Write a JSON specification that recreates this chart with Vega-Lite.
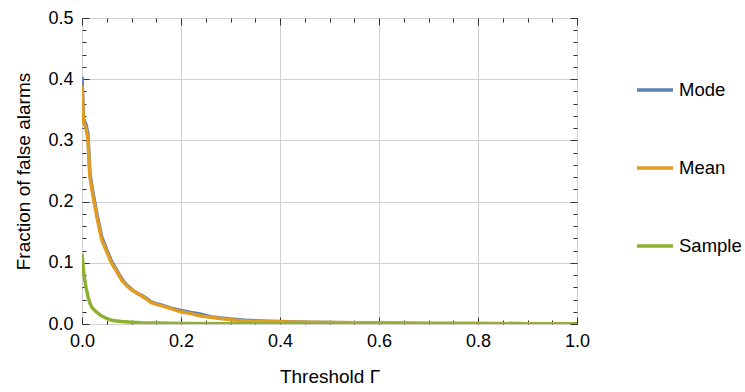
{
  "$schema": "https://vega.github.io/schema/vega-lite/v6.json",
  "autosize": "none",
  "width": 495,
  "height": 306,
  "padding": {"left": 82, "top": 18, "right": 168, "bottom": 68},
  "background": "white",
  "config": {
    "view": {"stroke": "#333333", "strokeWidth": 1},
    "font": "Liberation Sans",
    "axis": {"labelFont": "Liberation Sans", "titleFont": "Liberation Sans", "labelColor": "#000000", "titleColor": "#000000", "titleFontWeight": "normal", "labelFlush": false, "labelOverlap": false}
  },
  "data": {
    "values": [
      {"series": "Mode", "x": 0.0, "y": 0.404},
      {"series": "Mode", "x": 0.003, "y": 0.335},
      {"series": "Mode", "x": 0.008, "y": 0.326},
      {"series": "Mode", "x": 0.012, "y": 0.31},
      {"series": "Mode", "x": 0.016, "y": 0.246},
      {"series": "Mode", "x": 0.022, "y": 0.215},
      {"series": "Mode", "x": 0.03, "y": 0.18},
      {"series": "Mode", "x": 0.04, "y": 0.142},
      {"series": "Mode", "x": 0.05, "y": 0.121},
      {"series": "Mode", "x": 0.06, "y": 0.102},
      {"series": "Mode", "x": 0.07, "y": 0.088},
      {"series": "Mode", "x": 0.08, "y": 0.074},
      {"series": "Mode", "x": 0.09, "y": 0.064},
      {"series": "Mode", "x": 0.1, "y": 0.057},
      {"series": "Mode", "x": 0.11, "y": 0.051},
      {"series": "Mode", "x": 0.12, "y": 0.047},
      {"series": "Mode", "x": 0.13, "y": 0.042},
      {"series": "Mode", "x": 0.14, "y": 0.036},
      {"series": "Mode", "x": 0.15, "y": 0.033},
      {"series": "Mode", "x": 0.16, "y": 0.031},
      {"series": "Mode", "x": 0.18, "y": 0.026},
      {"series": "Mode", "x": 0.2, "y": 0.022},
      {"series": "Mode", "x": 0.22, "y": 0.019},
      {"series": "Mode", "x": 0.24, "y": 0.016},
      {"series": "Mode", "x": 0.26, "y": 0.012},
      {"series": "Mode", "x": 0.28, "y": 0.01},
      {"series": "Mode", "x": 0.3, "y": 0.008},
      {"series": "Mode", "x": 0.33, "y": 0.006},
      {"series": "Mode", "x": 0.36, "y": 0.005},
      {"series": "Mode", "x": 0.4, "y": 0.004},
      {"series": "Mode", "x": 0.45, "y": 0.003},
      {"series": "Mode", "x": 0.5, "y": 0.0025},
      {"series": "Mode", "x": 0.6, "y": 0.0015},
      {"series": "Mode", "x": 0.7, "y": 0.001},
      {"series": "Mode", "x": 0.8, "y": 0.0008},
      {"series": "Mode", "x": 0.9, "y": 0.0005},
      {"series": "Mode", "x": 1.0, "y": 0.0004},
      {"series": "Mean", "x": 0.0, "y": 0.39},
      {"series": "Mean", "x": 0.003, "y": 0.33},
      {"series": "Mean", "x": 0.008, "y": 0.32},
      {"series": "Mean", "x": 0.012, "y": 0.302},
      {"series": "Mean", "x": 0.016, "y": 0.24},
      {"series": "Mean", "x": 0.022, "y": 0.21},
      {"series": "Mean", "x": 0.03, "y": 0.175},
      {"series": "Mean", "x": 0.04, "y": 0.137},
      {"series": "Mean", "x": 0.05, "y": 0.118},
      {"series": "Mean", "x": 0.06, "y": 0.099},
      {"series": "Mean", "x": 0.07, "y": 0.086},
      {"series": "Mean", "x": 0.08, "y": 0.072},
      {"series": "Mean", "x": 0.09, "y": 0.063},
      {"series": "Mean", "x": 0.1, "y": 0.056},
      {"series": "Mean", "x": 0.11, "y": 0.051},
      {"series": "Mean", "x": 0.12, "y": 0.046},
      {"series": "Mean", "x": 0.13, "y": 0.041},
      {"series": "Mean", "x": 0.14, "y": 0.035},
      {"series": "Mean", "x": 0.15, "y": 0.032},
      {"series": "Mean", "x": 0.16, "y": 0.03},
      {"series": "Mean", "x": 0.18, "y": 0.025},
      {"series": "Mean", "x": 0.2, "y": 0.02},
      {"series": "Mean", "x": 0.22, "y": 0.017},
      {"series": "Mean", "x": 0.24, "y": 0.013},
      {"series": "Mean", "x": 0.26, "y": 0.011},
      {"series": "Mean", "x": 0.28, "y": 0.009},
      {"series": "Mean", "x": 0.3, "y": 0.007},
      {"series": "Mean", "x": 0.33, "y": 0.005},
      {"series": "Mean", "x": 0.36, "y": 0.004},
      {"series": "Mean", "x": 0.4, "y": 0.0035},
      {"series": "Mean", "x": 0.45, "y": 0.003},
      {"series": "Mean", "x": 0.5, "y": 0.0025},
      {"series": "Mean", "x": 0.6, "y": 0.0015},
      {"series": "Mean", "x": 0.7, "y": 0.001},
      {"series": "Mean", "x": 0.8, "y": 0.0008},
      {"series": "Mean", "x": 0.9, "y": 0.0005},
      {"series": "Mean", "x": 1.0, "y": 0.0004},
      {"series": "Sample", "x": 0.0, "y": 0.115},
      {"series": "Sample", "x": 0.004, "y": 0.08},
      {"series": "Sample", "x": 0.008, "y": 0.06},
      {"series": "Sample", "x": 0.012, "y": 0.045},
      {"series": "Sample", "x": 0.016, "y": 0.034},
      {"series": "Sample", "x": 0.02, "y": 0.027},
      {"series": "Sample", "x": 0.03, "y": 0.019},
      {"series": "Sample", "x": 0.04, "y": 0.013},
      {"series": "Sample", "x": 0.05, "y": 0.009},
      {"series": "Sample", "x": 0.06, "y": 0.006},
      {"series": "Sample", "x": 0.07, "y": 0.005},
      {"series": "Sample", "x": 0.08, "y": 0.004},
      {"series": "Sample", "x": 0.1, "y": 0.003},
      {"series": "Sample", "x": 0.12, "y": 0.002},
      {"series": "Sample", "x": 0.15, "y": 0.0015},
      {"series": "Sample", "x": 0.2, "y": 0.001},
      {"series": "Sample", "x": 0.3, "y": 0.0005},
      {"series": "Sample", "x": 0.5, "y": 0.0002},
      {"series": "Sample", "x": 1.0, "y": 0.0}
    ]
  },
  "layer": [
    {
      "mark": {"type": "point", "opacity": 0},
      "encoding": {
        "x": {"field": "x", "type": "quantitative", "scale": {"domain": [0, 1], "nice": false},
          "axis": {"orient": "bottom", "values": [0, 0.2, 0.4, 0.6, 0.8, 1.0], "format": ".1f", "ticks": false, "domain": false, "grid": true, "gridColor": "#d0d0d0", "gridWidth": 1, "labelFontSize": 18, "labelPadding": 8, "title": "Threshold Γ", "titleFontSize": 19, "titlePadding": 17}},
        "y": {"field": "y", "type": "quantitative", "scale": {"domain": [0, 0.5], "nice": false},
          "axis": {"orient": "left", "values": [0, 0.1, 0.2, 0.3, 0.4, 0.5], "format": ".1f", "ticks": false, "domain": false, "grid": true, "gridColor": "#d0d0d0", "gridWidth": 1, "labelFontSize": 18, "labelPadding": 9, "title": "Fraction of false alarms", "titleFontSize": 19, "titlePadding": 14.5}}
      }
    },
    {
      "mark": {"type": "point", "opacity": 0},
      "encoding": {
        "x": {"field": "x", "type": "quantitative",
          "axis": {"orient": "bottom", "values": [0, 0.2, 0.4, 0.6, 0.8, 1.0], "ticks": true, "tickSize": -7, "tickColor": "#333333", "labels": false, "domain": false, "grid": false, "title": null}},
        "y": {"field": "y", "type": "quantitative",
          "axis": {"orient": "left", "values": [0, 0.1, 0.2, 0.3, 0.4, 0.5], "ticks": true, "tickSize": -7, "tickColor": "#333333", "labels": false, "domain": false, "grid": false, "title": null}}
      }
    },
    {
      "mark": {"type": "point", "opacity": 0},
      "encoding": {
        "x": {"field": "x", "type": "quantitative",
          "axis": {"orient": "bottom", "values": [0.05, 0.1, 0.15, 0.25, 0.3, 0.35, 0.45, 0.5, 0.55, 0.65, 0.7, 0.75, 0.85, 0.9, 0.95], "ticks": true, "tickSize": -4, "tickColor": "#333333", "labels": false, "domain": false, "grid": false, "title": null}},
        "y": {"field": "y", "type": "quantitative",
          "axis": {"orient": "left", "values": [0.02, 0.04, 0.06, 0.08, 0.12, 0.14, 0.16, 0.18, 0.22, 0.24, 0.26, 0.28, 0.32, 0.34, 0.36, 0.38, 0.42, 0.44, 0.46, 0.48], "ticks": true, "tickSize": -4, "tickColor": "#333333", "labels": false, "domain": false, "grid": false, "title": null}}
      }
    },
    {
      "mark": {"type": "point", "opacity": 0},
      "encoding": {
        "x": {"field": "x", "type": "quantitative",
          "axis": {"orient": "top", "values": [0, 0.2, 0.4, 0.6, 0.8, 1.0], "ticks": true, "tickSize": -7, "tickColor": "#333333", "labels": false, "domain": false, "grid": false, "title": null}},
        "y": {"field": "y", "type": "quantitative",
          "axis": {"orient": "right", "values": [0, 0.1, 0.2, 0.3, 0.4, 0.5], "ticks": true, "tickSize": -7, "tickColor": "#333333", "labels": false, "domain": false, "grid": false, "title": null}}
      }
    },
    {
      "mark": {"type": "point", "opacity": 0},
      "encoding": {
        "x": {"field": "x", "type": "quantitative",
          "axis": {"orient": "top", "values": [0.05, 0.1, 0.15, 0.25, 0.3, 0.35, 0.45, 0.5, 0.55, 0.65, 0.7, 0.75, 0.85, 0.9, 0.95], "ticks": true, "tickSize": -4, "tickColor": "#333333", "labels": false, "domain": false, "grid": false, "title": null}},
        "y": {"field": "y", "type": "quantitative",
          "axis": {"orient": "right", "values": [0.02, 0.04, 0.06, 0.08, 0.12, 0.14, 0.16, 0.18, 0.22, 0.24, 0.26, 0.28, 0.32, 0.34, 0.36, 0.38, 0.42, 0.44, 0.46, 0.48], "ticks": true, "tickSize": -4, "tickColor": "#333333", "labels": false, "domain": false, "grid": false, "title": null}}
      }
    },
    {
      "mark": {"type": "line", "strokeWidth": 3.5, "clip": true},
      "encoding": {
        "x": {"field": "x", "type": "quantitative", "axis": null},
        "y": {"field": "y", "type": "quantitative", "axis": null},
        "color": {"field": "series", "type": "nominal",
          "scale": {"domain": ["Mode", "Mean", "Sample"], "range": ["#5e81b5", "#e19c24", "#8fb032"]},
          "legend": {"orient": "none", "legendX": 553, "legendY": 52, "title": null, "symbolType": "stroke", "symbolSize": 1296, "symbolStrokeWidth": 3.5, "labelFontSize": 18.5, "labelFont": "Liberation Sans", "labelColor": "#000000", "rowPadding": 48, "labelOffset": 4}}
      }
    }
  ],
  "resolve": {"axis": {"x": "independent", "y": "independent"}}
}
